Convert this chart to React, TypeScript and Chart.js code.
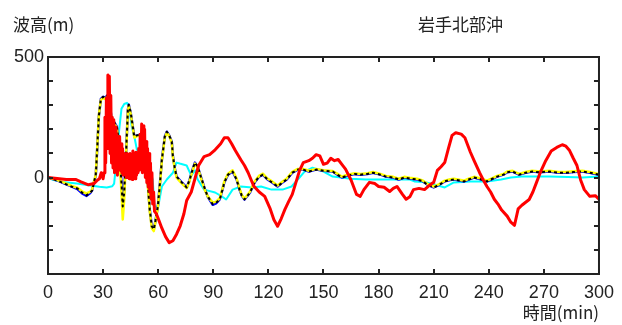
import { useEffect, useRef } from "react";
import { Chart, registerables } from "chart.js";

Chart.register(...registerables);

// Tick values
const xTickValues = [0, 30, 60, 90, 120, 150, 180, 210, 240, 270, 300];
const yLabeledValues = [500, 0];

// Observed (red) [minute, height]
const observed: [number, number][] = [
  [0, 0], [5, -4], [10, -8], [15, -8], [18, -18], [22, -30], [25, -25], [27, -10], [28, -5], [29, 20], [30, -5],
  [30.5, 20], [31, 250], [31.4, 60], [31.8, 330], [32.2, 120], [32.6, 425], [33, 160], [33.4, 420], [33.8, 100],
  [34.2, 340], [34.6, 60], [35, 250], [35.4, 40], [35.8, 240], [36.2, 20], [36.6, 210], [37, 30], [37.4, 180],
  [37.8, 10], [38.2, 150], [38.6, 40], [39, 170], [39.4, 30], [39.8, 140], [40.2, 20], [40.6, 120], [41, 10],
  [41.4, 100], [41.8, 30], [42.2, 90], [42.6, 0], [43, 100], [43.4, 10], [43.8, 95], [44.2, -5], [44.6, 100],
  [45, 0], [45.4, 90], [45.8, -8], [46.2, 110], [46.6, 5], [47, 100], [47.4, -5], [47.8, 105], [48.2, 10],
  [48.6, 90], [49, 20], [49.4, 120], [49.8, 30], [50.2, 180], [50.6, 40], [51, 222], [51.4, 20], [51.8, 215],
  [52.2, 30], [52.6, 200], [53, 0], [53.4, 150], [53.8, -20], [54.2, 120], [54.6, -40], [55, 100], [55.4, -60],
  [55.8, 60], [56.2, -90], [56.6, 20], [57, -110], [57.5, -60], [58, -140], [59, -150], [60, -170],
  [62, -210], [64, -245], [66, -270], [68, -262], [70, -235], [72, -200], [74, -150], [75.5, -95], [78, -60],
  [80, -5], [82, 50], [85, 87], [88, 95], [91, 115], [94, 140], [96, 165], [98, 165], [100, 140], [102, 112],
  [105, 74], [107, 50], [109, 20], [112, -35], [115, -60], [118, -78], [121, -130], [123, -175], [125, -202],
  [127, -170], [129, -132], [131, -100], [133, -70], [135, -20], [137, 30], [139, 62], [142, 70], [144, 80],
  [146, 95], [148, 90], [150, 55], [152, 60], [154, 80], [156, 70], [158, 75], [160, 55], [162, 35], [165, -10],
  [168, -70], [170, -78], [172, -50], [175, -20], [178, -25], [180, -37], [183, -40], [186, -58], [188, -45],
  [190, -37], [193, -70], [195, -90], [197, -80], [199, -50], [202, -45], [205, -50], [208, -30], [210, -20],
  [212, 30], [214, 45], [216, 62], [218, 120], [220, 175], [222, 186], [225, 180], [227, 165], [230, 105],
  [232, 70], [235, 20], [237, -10], [239, -37], [241, -60], [243, -90], [245, -110], [247, -135], [250, -160],
  [252, -185], [254, -198], [256, -130], [258, -115], [262, -91], [264, -60], [266, -20], [268, 20], [271, 70],
  [274, 110], [277, 125], [280, 136], [282, 130], [284, 112], [286, 80], [288, 50], [290, -10], [292, -50],
  [295, -78], [298, -75], [300, -90],
];

// Simulation (blue)
const simBlue: [number, number][] = [
  [0, 0], [2, -4], [5, -12], [9, -25], [13, -38], [16, -48], [19, -68], [21, -76], [23, -64], [24, -54],
  [25, -20], [26, 8], [26.6, 91], [27.7, 256], [28.8, 326], [30, 335], [31, 330], [32.6, 343], [34, 280],
  [34.8, 240], [36, 230], [37.5, 211], [38.5, 150], [39, 87], [40, -20], [40.7, -120], [41.5, -60], [42.5, 100],
  [43.5, 281], [44, 302], [45, 270], [45.6, 240], [47, 170], [48.5, 175], [50, 178], [51.6, 116], [53, 70],
  [53.8, 33], [55.4, -132], [56.5, -202], [57.6, -215], [58.5, -180], [59.8, -120], [61, -20], [62, 74],
  [63.6, 170], [64.7, 190], [66, 175], [67.4, 149], [68, 90], [69, 40], [70, 4], [72.8, -20], [75.5, -41],
  [77, -12], [79, 40], [80, 62], [81.5, 45], [83.7, -8], [85.5, -50], [87, -80], [89.7, -113], [91.5, -107],
  [93.5, -91], [95, -50], [96, -20], [98, 12], [100.5, 25], [102.7, -8], [104.3, -50], [105.5, -75], [107, -91],
  [110, -62], [112.5, -20], [115, 4], [117, 12], [119.5, -8], [122, -20], [125, -37], [127.7, -20], [130, -8],
  [133, 20], [136, 33], [139, 33], [142, 25], [146, 33], [150, 28], [155, 25], [158, 10], [160, 0], [163, 8],
  [167, 15], [170, 12], [174, 15], [177, 20], [181, 12], [184, 4], [188, 0], [191, -8], [194, 0], [197, -4],
  [201, -8], [204, -15], [206.5, -29], [210, -41], [213, -30], [216, -16], [219, -10], [221, -8], [224, -12],
  [226.6, -16], [229, -8], [232, 0], [236, -8], [239, -16], [242, -5], [244.5, 4], [248, 12], [250, 22],
  [253, 25], [256.5, 12], [260, 20], [263.6, 25], [268, 22], [273, 25], [278, 20], [282, 20], [286, 23],
  [291, 25], [295, 20], [300, 12],
];

// Simulation (yellow)
const simYellow: [number, number][] = [
  [0, 0], [2, -4], [5, -10], [9, -22], [13, -35], [16, -42], [19, -60], [21, -66], [23, -58], [24, -50],
  [25, -18], [26, 10], [26.6, 95], [27.7, 260], [28.8, 322], [30, 330], [31, 326], [32.6, 338], [34, 276],
  [34.8, 236], [36, 226], [37.5, 205], [38.5, 140], [39, 70], [40, -60], [40.7, -174], [41.5, -90], [42.5, 90],
  [43.5, 276], [44, 298], [45, 266], [45.6, 236], [47, 166], [48.5, 172], [50, 174], [51.6, 110], [53, 62],
  [53.8, 25], [55.4, -140], [56.5, -210], [57.6, -222], [58.5, -185], [59.8, -125], [61, -25], [62, 70],
  [63.6, 166], [64.7, 186], [66, 172], [67.4, 145], [68, 86], [69, 36], [70, 0], [72.8, -24], [75.5, -44],
  [77, -16], [79, 36], [80, 58], [81.5, 42], [83.7, -12], [85.5, -54], [87, -78], [89.7, -104], [91.5, -100],
  [93.5, -86], [95, -46], [96, -16], [98, 16], [100.5, 30], [102.7, -4], [104.3, -46], [105.5, -72], [107, -88],
  [110, -58], [112.5, -16], [115, 8], [117, 16], [119.5, -4], [122, -16], [125, -33], [127.7, -16], [130, -4],
  [133, 24], [136, 36], [139, 36], [142, 28], [146, 36], [150, 30], [155, 27], [158, 14], [160, 4], [163, 12],
  [167, 18], [170, 15], [174, 18], [177, 23], [181, 15], [184, 7], [188, 3], [191, -5], [194, 3], [197, -1],
  [201, -5], [204, -12], [206.5, -26], [210, -38], [213, -27], [216, -13], [219, -7], [221, -5], [224, -9],
  [226.6, -13], [229, -5], [232, 3], [236, -5], [239, -13], [242, -2], [244.5, 7], [248, 15], [250, 25],
  [253, 28], [256.5, 15], [260, 23], [263.6, 28], [268, 25], [273, 28], [278, 23], [282, 23], [286, 26],
  [291, 28], [295, 23], [300, 15],
];

// Simulation (black dashed)
const simBlack: [number, number][] = [
  [0, 0], [2, -4], [5, -12], [9, -25], [13, -38], [16, -45], [19, -65], [21, -74], [23, -62], [24, -54],
  [25, -20], [26, 8], [26.6, 91], [27.7, 256], [28.8, 326], [30, 335], [31, 330], [32.6, 343], [34, 280],
  [34.8, 240], [36, 230], [37.5, 211], [38.5, 150], [39, 87], [40, -20], [40.7, -120], [41.5, -60], [42.5, 100],
  [43.5, 281], [44, 302], [45, 270], [45.6, 240], [47, 170], [48.5, 175], [50, 178], [51.6, 116], [53, 70],
  [53.8, 33], [55.4, -132], [56.5, -202], [57.6, -215], [58.5, -180], [59.8, -120], [61, -20], [62, 74],
  [63.6, 170], [64.7, 190], [66, 175], [67.4, 149], [68, 90], [69, 40], [70, 4], [72.8, -20], [75.5, -41],
  [77, -12], [79, 40], [80, 62], [81.5, 45], [83.7, -8], [85.5, -50], [87, -78], [89.7, -111], [91.5, -105],
  [93.5, -91], [95, -50], [96, -20], [98, 12], [100.5, 25], [102.7, -8], [104.3, -50], [105.5, -75], [107, -91],
  [110, -62], [112.5, -20], [115, 4], [117, 12], [119.5, -8], [122, -20], [125, -37], [127.7, -20], [130, -8],
  [133, 20], [136, 33], [139, 33], [142, 25], [146, 33], [150, 28], [155, 25], [158, 10], [160, 0], [163, 8],
  [167, 15], [170, 12], [174, 15], [177, 20], [181, 12], [184, 4], [188, 0], [191, -8], [194, 0], [197, -4],
  [201, -8], [204, -15], [206.5, -29], [210, -41], [213, -30], [216, -16], [219, -10], [221, -8], [224, -12],
  [226.6, -16], [229, -8], [232, 0], [236, -8], [239, -16], [242, -5], [244.5, 4], [248, 12], [250, 22],
  [253, 25], [256.5, 12], [260, 20], [263.6, 25], [268, 22], [273, 25], [278, 20], [282, 20], [286, 23],
  [291, 25], [295, 20], [300, 12],
];

// Simulation (cyan)
const simCyan: [number, number][] = [
  [0, 0], [3, -10], [8, -18], [15.7, -25], [23, -33], [28, -38], [32, -41], [35, -36], [36, -25], [37, 50],
  [38.6, 186], [40, 285], [41.5, 305], [43, 310], [44, 300], [45.6, 211], [47, 170], [48.4, 116], [50, 103],
  [51.5, 70], [52.7, 33], [55.4, 33], [57, -8], [58, -120], [60, -120], [62, -37], [64.7, -8], [68, 20],
  [70, 62], [71.7, 58], [75.5, 50], [78, 8], [80, 30], [81.5, -8], [85, -50], [91, -62], [94.6, -78],
  [97, -91], [100.5, -50], [105, -37], [111, -41], [116, -37], [121.7, -50], [127.7, -50], [132.6, -37],
  [136, -8], [139.7, 25], [144, 41], [150, 25], [155, 4], [165, -5], [173, -8], [185, -8], [197, -8],
  [199.5, -16], [206, -20], [211, -30], [216, -41], [221, -20], [230, -16], [239, -16], [246.7, -8],
  [252, 0], [258, 4], [265, 4], [273, 4], [283, 2], [291, 0], [300, 4],
];

const toPoints = (arr: [number, number][]) => arr.map(([x, y]) => ({ x, y }));

const framePlugin = {
  id: "frame",
  afterDraw(chart: any) {
    const { ctx, chartArea: a, scales } = chart;
    ctx.save();
    ctx.strokeStyle = "#222";
    ctx.lineWidth = 2;
    ctx.strokeRect(a.left, a.top, a.right - a.left, a.bottom - a.top);
    ctx.beginPath();
    const tl = 5;
    scales.x.ticks.forEach((t: any) => {
      const px = Math.round(scales.x.getPixelForValue(t.value));
      ctx.moveTo(px, a.bottom);
      ctx.lineTo(px, a.bottom - tl);
      ctx.moveTo(px, a.top);
      ctx.lineTo(px, a.top + tl);
    });
    scales.y.ticks.forEach((t: any) => {
      const py = Math.round(scales.y.getPixelForValue(t.value));
      ctx.moveTo(a.left, py);
      ctx.lineTo(a.left + tl, py);
      ctx.moveTo(a.right, py);
      ctx.lineTo(a.right - tl, py);
    });
    ctx.stroke();

    ctx.fillStyle = "#222";
    ctx.textBaseline = "middle";
    ctx.font = '17px "Noto Sans CJK JP"';
    ctx.textAlign = "left";
    ctx.fillText("波高(m)", 13, 25);
    ctx.fillText("岩手北部沖", 418, 25);
    ctx.textAlign = "right";
    ctx.fillText("時間(min)", 599, 313);
    ctx.restore();
  },
};

export default function App() {
  const ref = useRef<HTMLCanvasElement | null>(null);

  useEffect(() => {
    if (!ref.current) return;
    const chart = new Chart(ref.current, {
      type: "line",
      data: {
        datasets: [
          { label: "観測", data: toPoints(observed), borderColor: "#ff0000", borderWidth: 3, order: 0 },
          { label: "計算C", data: toPoints(simBlack), borderColor: "#000000", borderWidth: 2, borderDash: [3, 3], order: 1 },
          { label: "計算B", data: toPoints(simYellow), borderColor: "#ffff00", borderWidth: 2.5, order: 2 },
          { label: "計算A", data: toPoints(simBlue), borderColor: "#0000ff", borderWidth: 2.5, order: 3 },
          { label: "計算D", data: toPoints(simCyan), borderColor: "#00ffff", borderWidth: 2, order: 4 },
        ] as any,
      },
      options: {
        responsive: false,
        animation: false,
        layout: { padding: { top: 57, right: 22, left: 0, bottom: 0 } },
        elements: { point: { radius: 0 }, line: { tension: 0, borderJoinStyle: "round" as any } },
        plugins: { legend: { display: false }, tooltip: { enabled: false } },
        scales: {
          x: {
            type: "linear",
            min: 0,
            max: 300,
            afterBuildTicks: (scale: any) => {
              scale.ticks = xTickValues.map((v) => ({ value: v }));
            },
            afterFit: (scale: any) => {
              scale.height = 51;
            },
            grid: { display: false, drawTicks: false },
            border: { display: false },
            ticks: {
              padding: 8,
              color: "#222",
              maxRotation: 0,
              autoSkip: false,
              font: { family: '"Liberation Sans", Arial, sans-serif', size: 18 },
            },
          },
          y: {
            type: "linear",
            min: -400,
            max: 500,
            ticks: {
              stepSize: 100,
              padding: 4,
              color: "#222",
              autoSkip: false,
              font: { family: '"Liberation Sans", Arial, sans-serif', size: 18 },
              callback: (v: any) => (yLabeledValues.includes(Number(v)) ? String(v) : ""),
            },
            afterFit: (scale: any) => {
              scale.width = 48;
            },
            grid: { display: false, drawTicks: false },
            border: { display: false },
          },
        },
      },
      plugins: [framePlugin],
    });
    return () => chart.destroy();
  }, []);

  return (
    <div style={{ position: "absolute", left: 0, top: 0, width: 622, height: 325, background: "#fff" }}>
      <canvas ref={ref} width={622} height={325} style={{ display: "block" }} />
    </div>
  );
}
